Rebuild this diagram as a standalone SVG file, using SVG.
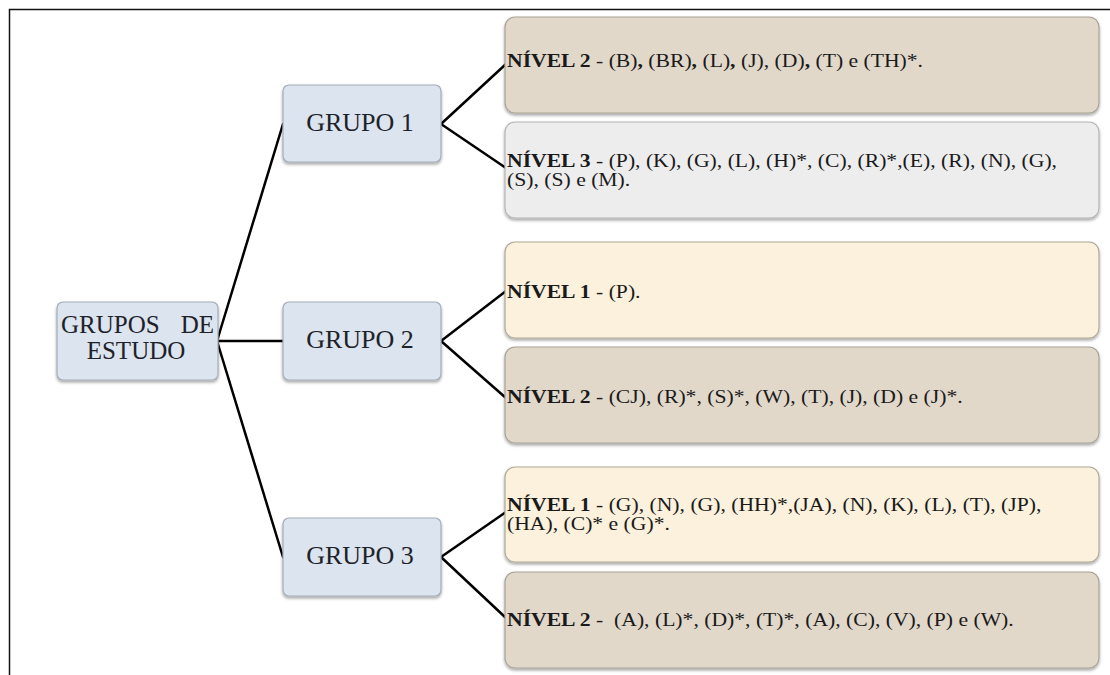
<svg xmlns="http://www.w3.org/2000/svg" width="1110" height="675" viewBox="0 0 1110 675">
<defs>
<filter id="sh" x="-5%" y="-10%" width="110%" height="130%">
<feDropShadow dx="0" dy="2" stdDeviation="1.5" flood-color="#000" flood-opacity="0.35"/>
</filter>
<style>
.grp{fill:#dbe4ef;stroke:#a3acb8;stroke-width:1.2;filter:url(#sh)}
.sand{fill:#e1d8ca;stroke:#a8a296;stroke-width:1.2;filter:url(#sh)}
.gray{fill:#ededed;stroke:#b4b4b4;stroke-width:1.2;filter:url(#sh)}
.cream{fill:#fbf1dc;stroke:#b0a898;stroke-width:1.2;filter:url(#sh)}
.gt{font-family:"Liberation Serif","Times New Roman",serif;font-size:26px;fill:#1e2228;text-anchor:middle}
.rt{font-family:"Liberation Serif","Times New Roman",serif;font-size:25px;fill:#1e2228}
.lt{font-family:"Liberation Serif","Times New Roman",serif;font-size:19px;fill:#1a1a1a}
.b{font-weight:bold}
.con{stroke:#000;stroke-width:2.5;fill:none;stroke-linecap:round;stroke-linejoin:round}
.frame{stroke:#111;stroke-width:1.5;fill:none}
</style>
</defs>
<rect width="1110" height="675" fill="#fff"/>
<path class="frame" d="M9.5 675 V9.5 H1110"/>

<g id="connectors">
<path class="con" d="M283 124 L217 341 L283 341 M217 341 L283 557"/>
<path class="con" d="M506 64 L441 124 L506 168"/>
<path class="con" d="M506 291 L441 341 L506 398"/>
<path class="con" d="M506 512 L441 557 L506 618"/>
</g>

<g id="root">
<rect class="grp" x="57" y="302" width="161" height="78" rx="6"/>
<text class="rt" x="61" y="333">GRUPOS</text>
<text class="rt" x="214" y="333" text-anchor="end">DE</text>
<text class="rt" x="136" y="359" text-anchor="middle">ESTUDO</text>
</g>

<g id="grupo1">
<rect class="grp" x="283" y="85" width="158" height="77" rx="6"/>
<text class="gt" x="360" y="131">GRUPO 1</text>
</g>
<g id="grupo2">
<rect class="grp" x="283" y="302" width="158" height="78" rx="6"/>
<text class="gt" x="360" y="348">GRUPO 2</text>
</g>
<g id="grupo3">
<rect class="grp" x="283" y="518" width="158" height="78" rx="6"/>
<text class="gt" x="360" y="564">GRUPO 3</text>
</g>

<g id="g1n2">
<rect class="sand" x="505" y="17" width="594" height="96" rx="10"/>
<g transform="translate(507 67) scale(1.14 1)"><text class="lt" x="0" y="0"><tspan class="b">NÍVEL 2</tspan> - (B)<tspan class="b">,</tspan> (BR)<tspan class="b">,</tspan> (L)<tspan class="b">,</tspan> (J), (D)<tspan class="b">,</tspan> (T) e (TH)*.</text></g>
</g>
<g id="g1n3">
<rect class="gray" x="505" y="122" width="594" height="96" rx="10"/>
<g transform="translate(507 167) scale(1.14 1)"><text class="lt" x="0" y="0"><tspan class="b">NÍVEL 3</tspan> - (P), (K), (G), (L), (H)*, (C), (R)*,(E), (R), (N), (G),</text><text class="lt" x="0" y="19">(S), (S) e (M).</text></g>
</g>
<g id="g2n1">
<rect class="cream" x="505" y="242" width="594" height="96" rx="10"/>
<g transform="translate(507 298) scale(1.14 1)"><text class="lt" x="0" y="0"><tspan class="b">NÍVEL 1</tspan> - (P).</text></g>
</g>
<g id="g2n2">
<rect class="sand" x="505" y="347" width="594" height="96" rx="10"/>
<g transform="translate(507 403) scale(1.14 1)"><text class="lt" x="0" y="0"><tspan class="b">NÍVEL 2</tspan> - (CJ), (R)*, (S)*, (W), (T), (J), (D) e (J)*.</text></g>
</g>
<g id="g3n1">
<rect class="cream" x="505" y="467" width="594" height="95" rx="10"/>
<g transform="translate(507 511) scale(1.14 1)"><text class="lt" x="0" y="0"><tspan class="b">NÍVEL 1</tspan> - (G), (N), (G), (HH)*,(JA), (N), (K), (L), (T), (JP),</text><text class="lt" x="0" y="19">(HA), (C)* e (G)*.</text></g>
</g>
<g id="g3n2">
<rect class="sand" x="505" y="572" width="594" height="96" rx="10"/>
<g transform="translate(507 626) scale(1.14 1)"><text class="lt" x="0" y="0"><tspan class="b">NÍVEL 2</tspan> - &#160;(A), (L)*, (D)*, (T)*, (A), (C), (V), (P) e (W).</text></g>
</g>
</svg>
